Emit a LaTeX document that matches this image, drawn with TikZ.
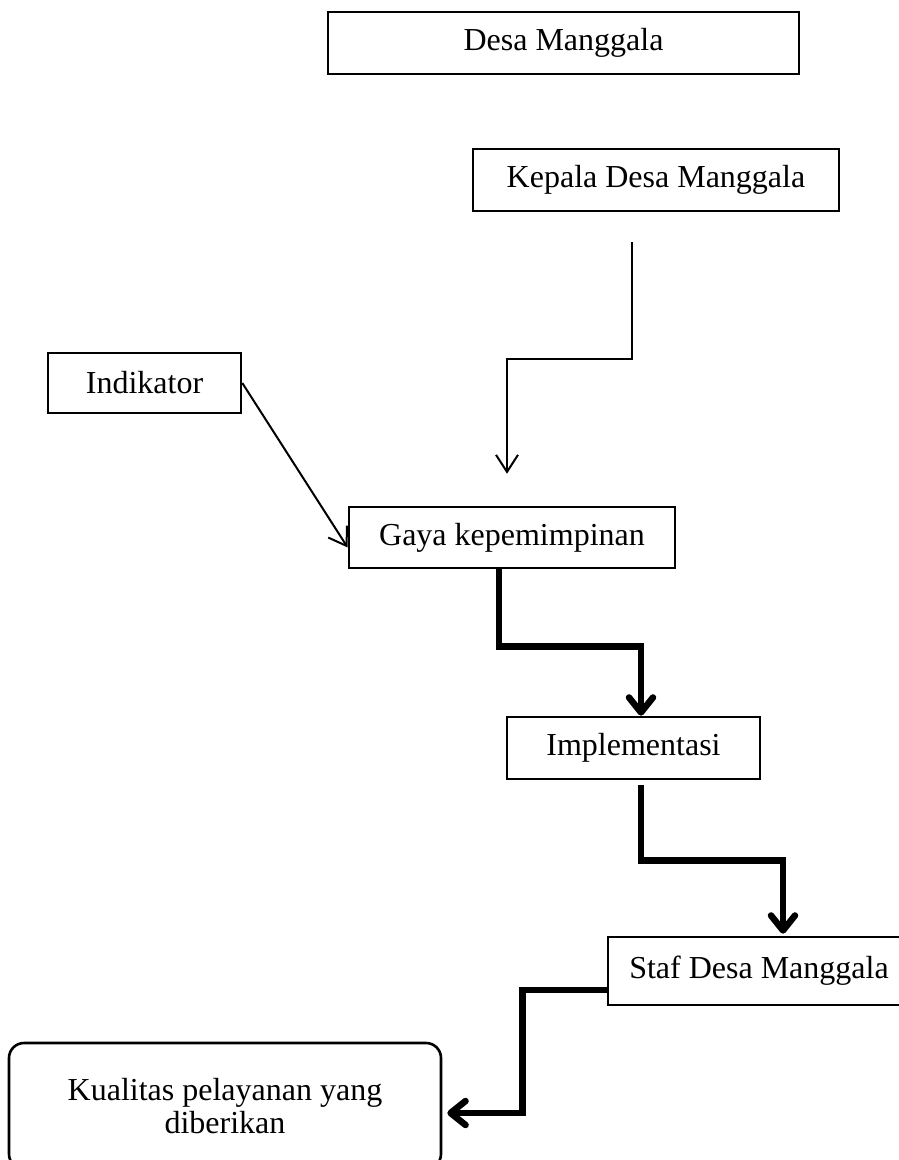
\documentclass[tikz,border=0pt]{standalone}
\usepackage{fontspec}
\setmainfont{Liberation Serif}
\usepackage{tikz}
\usetikzlibrary{arrows.meta,positioning,calc}

\begin{document}
\begin{tikzpicture}[
    x=1pt, y=-1pt,
    block/.style={draw, line width=2.6pt, inner sep=0pt, align=center, font=\fontsize{32}{33}\selectfont},
    arr/.style={-{Straight Barb[length=17pt,width=22pt]}, line width=2pt},
    boldarr/.style={-{Straight Barb[length=15pt,width=24pt,round]}, line width=6.5pt}
  ]
    \useasboundingbox (0,0) rectangle (899,1160);

    \node[block, minimum width=471pt, minimum height=62pt] (desa)   at (563.5, 43)  {Desa Manggala};
    \node[block, minimum width=366pt, minimum height=62pt] (kepala) at (656, 180)   {Kepala Desa Manggala};
    \node[block, minimum width=193pt, minimum height=60pt] (ind)    at (144.5, 383) {Indikator};
    \node[block, minimum width=326pt, minimum height=61pt] (gaya)   at (512, 537.5) {Gaya kepemimpinan};
    \node[block, minimum width=253pt, minimum height=62pt] (impl)   at (633.5, 748) {Implementasi};
    \node[block, minimum width=302pt, minimum height=68pt] (staf)   at (759, 971)   {Staf Desa Manggala};
    \node[block, rounded corners=15pt, minimum width=432pt, minimum height=126pt] (kual) at (225, 1106)
        {Kualitas pelayanan yang\\diberikan};

    \draw[arr] ([xshift=-24pt, yshift=-30pt]kepala.south) -- ++(0,117) -| ([xshift=-5pt, yshift=32pt]gaya.north);
    \draw[arr] (ind.east) -- ([yshift=-10pt]gaya.west);
    \draw[boldarr] ([xshift=-13pt]gaya.south) -- ++(0,77) -| ([xshift=7.5pt]impl.north);
    \draw[boldarr] ([xshift=7.5pt, yshift=-5pt]impl.south) -- ++(0,75) -| ([xshift=24pt, yshift=2pt]staf.north);
    \draw[boldarr] ([yshift=-19pt]staf.west) -- ++(-84,0) |- ([xshift=5pt, yshift=-7pt]kual.east);
  \end{tikzpicture}
\end{document}
